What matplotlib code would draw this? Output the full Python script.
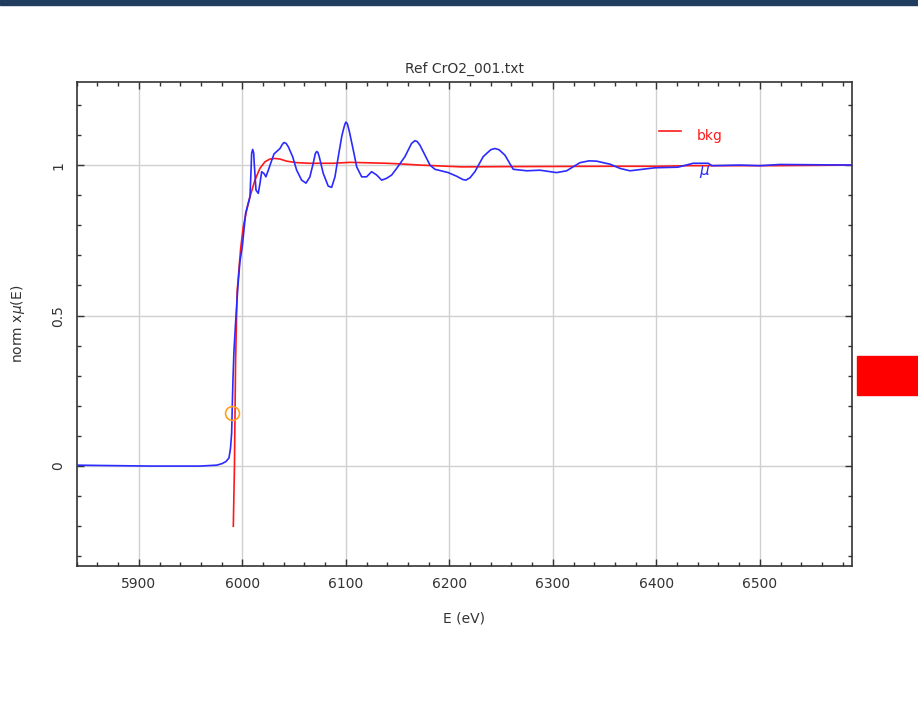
import numpy as np
import matplotlib
matplotlib.use('Agg')
import matplotlib.pyplot as plt
from matplotlib.ticker import MultipleLocator
from matplotlib.patches import Rectangle

# Datos: energia (eV) y absorcion normalizada
e_mu = [5840, 5862.5, 5910.8, 5959.1, 5975.2, 5980.3, 5984.2, 5987.1, 5988.6,
        5989.7, 5990.3, 5991.0, 5991.9, 5993.9, 5995.8, 5997.7, 6000.0, 6003.2,
        6007.4, 6008.4, 6009.0, 6010.0, 6011.0, 6011.5, 6013.2, 6015.4, 6017.1,
        6018.7, 6020.9, 6022.8, 6025.1, 6027.4, 6030.6, 6036.4, 6038.5, 6040.2,
        6042.3, 6044.4, 6048.6, 6052.5, 6057.3, 6061.5, 6065.3, 6068.5, 6070.5,
        6071.8, 6073.0, 6074.3, 6078.2, 6083.0, 6086.3, 6089.5, 6092.7, 6096.0,
        6097.5, 6099.0, 6100.1, 6101.5, 6103.5, 6107.2, 6110.5, 6115.3, 6120.1,
        6124.9, 6129.8, 6134.6, 6139.4, 6144.3, 6149.1, 6157.1, 6163.5, 6166.8,
        6169.0, 6171.6, 6181.3, 6186.1, 6198.9, 6207.0, 6213.0, 6216.0, 6220.0,
        6224.7, 6232.7, 6240.0, 6244.0, 6248.0, 6253.7, 6261.7, 6274.7, 6287.5,
        6303.6, 6313.3, 6326.2, 6335.0, 6342.3, 6355.2, 6364.8, 6374.5, 6384.2,
        6398.6, 6420.8, 6435.6, 6450.1, 6453.7, 6480.7, 6500.0, 6519.3, 6589.0]
mu = [0.003, 0.002, 0.0, 0.0, 0.003, 0.008, 0.015, 0.027, 0.06,
      0.11, 0.2, 0.29, 0.38, 0.5, 0.6, 0.68, 0.73, 0.84,
      0.895, 0.98, 1.039, 1.052, 1.04, 1.006, 0.917, 0.906, 0.94,
      0.978, 0.972, 0.961, 0.983, 1.006, 1.037, 1.055, 1.068, 1.075,
      1.072, 1.061, 1.028, 0.983, 0.95, 0.94, 0.961, 1.006, 1.038,
      1.045, 1.042, 1.028, 0.972, 0.930, 0.926, 0.961, 1.028, 1.094,
      1.116, 1.135, 1.143, 1.137, 1.11, 1.05, 0.994, 0.961, 0.961,
      0.978, 0.967, 0.95, 0.956, 0.967, 0.989, 1.028, 1.072, 1.081,
      1.078, 1.066, 1.0, 0.986, 0.975, 0.963, 0.952, 0.950, 0.958,
      0.978, 1.028, 1.051, 1.055, 1.051, 1.033, 0.986, 0.981, 0.983,
      0.975, 0.981, 1.008, 1.014, 1.013, 1.003, 0.989, 0.981, 0.985,
      0.991, 0.993, 1.006, 1.006, 0.998, 1.0, 0.998, 1.002, 1.0]

e_bkg = [5991.3, 5992.4, 5993.5, 5995.0, 5998.4, 6000.9, 6004.2, 6007.4, 6012.2,
         6017.0, 6021.9, 6026.7, 6031.5, 6036.4, 6042.8, 6052.5, 6065.3, 6087.9,
         6104.0, 6139.4, 6152.3, 6171.6, 6211.9, 6261.7, 6358.3, 6400.2, 6432.4,
         6512.5, 6589.0]
bkg = [-0.2, 0.0, 0.35, 0.58, 0.723, 0.795, 0.85, 0.895, 0.95,
       0.989, 1.011, 1.02, 1.022, 1.02, 1.013, 1.008, 1.006, 1.006,
       1.009, 1.006, 1.004, 1.0, 0.994, 0.995, 0.996, 0.996, 0.998,
       0.998, 1.0]

e0 = 5990.0
mu_e0 = 0.176

fig = plt.figure(figsize=(9.18, 7.25), dpi=100)
fig.patch.set_facecolor('white')

# barra superior y rectangulo rojo del borde
fig.patches.append(Rectangle((0, 1 - 5 / 725), 1, 5 / 725, transform=fig.transFigure,
                             color='#203d5f', zorder=0))
fig.patches.append(Rectangle((857 / 918, 1 - 395 / 725), 61 / 918, 39 / 725,
                             transform=fig.transFigure, color='#ff0000', zorder=0))

ax = fig.add_axes([76.7 / 918, 1 - 566 / 725, (852 - 76.7) / 918, (566 - 82.3) / 725])
ax.plot(e_mu, mu, color='#2b2bff', lw=1.2, zorder=3)
ax.plot(e_bkg, bkg, color='#ff1a1a', lw=1.2, zorder=2)
ax.plot([e0], [mu_e0], 'o', mfc='none', mec='#ffa020', ms=10, mew=1.2, zorder=4)

ax.set_xlim(5840, 6589)
ax.set_ylim(-0.332, 1.275)
ax.xaxis.set_major_locator(MultipleLocator(100))
ax.xaxis.set_minor_locator(MultipleLocator(20))
ax.yaxis.set_major_locator(MultipleLocator(0.5))
ax.yaxis.set_minor_locator(MultipleLocator(0.1))
ax.set_yticks([0, 0.5, 1])
ax.set_yticklabels(['0', '0.5', '1'])
ax.grid(True, which='major', color='#d0d0d0', lw=1)
ax.set_axisbelow(True)
ax.tick_params(which='both', direction='in', top=True, right=True, colors='#333333',
               labelcolor='#333333', labelsize=10)
ax.tick_params(which='major', length=5, width=1, pad=8)
ax.tick_params(which='minor', length=3, width=1)
for lbl in ax.get_yticklabels():
    lbl.set_rotation(90)
    lbl.set_va('center')
for s in ax.spines.values():
    s.set_color('#333333')
    s.set_linewidth(1.2)

ax.set_title('Ref CrO2_001.txt', fontsize=10, color='#333333', pad=7)
ax.set_xlabel('E (eV)', fontsize=10, color='#333333', labelpad=15)
ax.set_ylabel('norm x$\\mu$(E)', fontsize=10, color='#333333', labelpad=18)

# leyenda
ax.plot([6403, 6424], [1.112, 1.112], color='#ff1a1a', lw=1.2)
ax.text(6439, 1.097, 'bkg', color='#ff1a1a', fontsize=10, va='center')
ax.text(6441, 0.978, '$\\mu$', color='#2b2bff', fontsize=11, va='center')

fig.savefig('out.png', dpi=100)
